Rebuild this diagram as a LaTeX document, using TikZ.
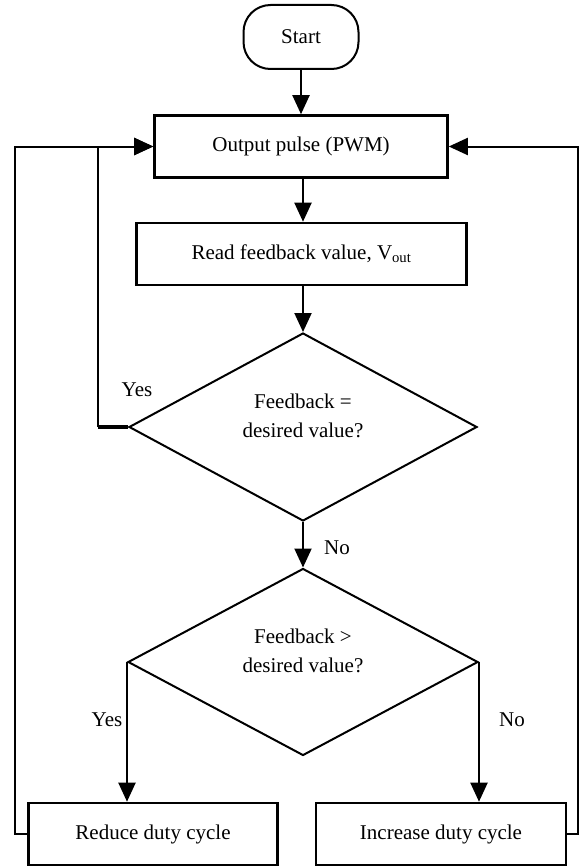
\documentclass[tikz,border=0pt]{standalone}
\usepackage{fontspec}
\setmainfont{Liberation Serif}
\usetikzlibrary{arrows.meta,shapes.geometric}
\begin{document}
\begin{tikzpicture}[x=1pt,y=-1pt,
  every node/.style={font=\fontsize{21}{29}\selectfont},
  box/.style={draw,line width=2.6pt,inner sep=0pt},
  dia/.style={draw,diamond,line width=2pt,inner sep=0pt},
  dtext/.style={align=center,inner sep=0pt},
  conn/.style={line width=2pt},
  arr/.style={conn,-{Triangle[length=19pt,width=17pt]}},
  lbl/.style={inner sep=0pt}]
\useasboundingbox (0,0) rectangle (579,867);
\node[box,rounded corners=27pt,line width=2pt,minimum width=115pt,minimum height=64pt] (start) at (301,37) {Start};
\node[box,minimum width=293pt,minimum height=62pt] (out) at (301,146.5) {Output pulse (PWM)};
\node[box,minimum width=330pt,minimum height=62pt] (read) at (301.5,254) {Read feedback value, V\textsubscript{out}};
\node[dia,minimum width=348pt,minimum height=188pt] (d1) at (303,427) {};
\node[dtext] (t1) at (303,416) {Feedback =\\desired value?};
\node[dia,minimum width=350pt,minimum height=187pt] (d2) at (303,662) {};
\node[dtext] (t2) at (303,651) {Feedback >\\desired value?};
\node[box,minimum width=249pt,minimum height=62pt] (red) at (153,834) {Reduce duty cycle};
\node[box,minimum width=250pt,minimum height=62pt] (inc) at (441,834) {Increase duty cycle};
\coordinate (yesl) at (98,427);
\coordinate (yest) at (98,146.5);
\coordinate (ll) at (15,834);
\coordinate (lt) at (15,146.5);
\coordinate (rr) at (578,834);
\coordinate (rt) at (578,146.5);
\draw[arr] (start) -- (out);
\draw[arr] (out.south -| d1.north) -- (read.north -| d1.north);
\draw[arr] (read.south -| d1.north) -- (d1.north);
\draw[arr] (d1.south) -- (d2.north);
\draw[line width=4pt] (d1.west) -- (yesl);
\draw[arr] (yesl) -- (yest) -- (out.west);
\draw[arr] (red.west) -- (ll) -- (lt) -- (out.west);
\draw[arr] (inc.east) -- (rr) -- (rt) -- (out.east);
\draw[arr] (d2.west) -- (d2.west |- red.north);
\draw[arr] (d2.east) -- (d2.east |- inc.north);
\node[lbl] (l1) at (137,390) {Yes};
\node[lbl] (l2) at (337,548) {No};
\node[lbl] (l3) at (107,720) {Yes};
\node[lbl] (l4) at (512,720) {No};
\end{tikzpicture}
\end{document}
